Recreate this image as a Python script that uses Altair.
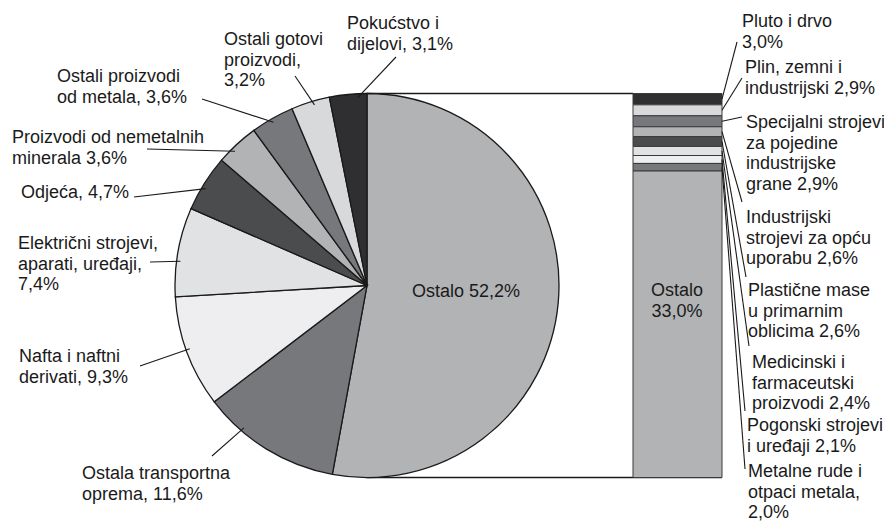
import altair as alt
import pandas as pd
import numpy as np

# ---------------- data ----------------
pie_names = ["Ostalo", "Ostala transportna oprema", "Nafta i naftni derivati",
             "Električni strojevi, aparati, uređaji", "Odjeća",
             "Proizvodi od nemetalnih minerala", "Ostali proizvodi od metala",
             "Ostali gotovi proizvodi", "Pokućstvo i dijelovi"]
pie_values = [52.2, 11.6, 9.3, 7.4, 4.7, 3.6, 3.6, 3.2, 3.1]
pie_label_text = ["Ostalo 52,2%",
                  "Ostala transportna\noprema, 11,6%",
                  "Nafta i naftni\nderivati, 9,3%",
                  "Električni strojevi,\naparati, uređaji,\n7,4%",
                  "Odjeća, 4,7%",
                  "Proizvodi od nemetalnih\nminerala 3,6%",
                  "Ostali proizvodi\nod metala, 3,6%",
                  "Ostali gotovi\nproizvodi,\n3,2%",
                  "Pokućstvo i\ndijelovi, 3,1%"]
pie_colors = ["#b2b3b5", "#77787b", "#eeeef0", "#e1e2e3", "#4b4c4e",
              "#b2b3b5", "#77787b", "#d8d9da", "#2f2e30"]

bar_names = ["Pluto i drvo", "Plin, zemni i industrijski",
             "Specijalni strojevi za pojedine industrijske grane",
             "Industrijski strojevi za opću uporabu",
             "Plastične mase u primarnim oblicima",
             "Medicinski i farmaceutski proizvodi",
             "Pogonski strojevi i uređaji",
             "Metalne rude i otpaci metala", "Ostalo"]
bar_values = [3.0, 2.9, 2.9, 2.6, 2.6, 2.4, 2.1, 2.0, 33.0]
bar_label_text = ["Pluto i drvo\n3,0%",
                  "Plin, zemni i\nindustrijski 2,9%",
                  "Specijalni strojevi\nza pojedine\nindustrijske\ngrane 2,9%",
                  "Industrijski\nstrojevi za opću\nuporabu 2,6%",
                  "Plastične mase\nu primarnim\noblicima 2,6%",
                  "Medicinski i\nfarmaceutski\nproizvodi 2,4%",
                  "Pogonski strojevi\ni uređaji 2,1%",
                  "Metalne rude i\notpaci metala,\n2,0%",
                  "Ostalo\n33,0%"]
bar_colors = ["#2f2e30", "#d8d9da", "#77787b", "#b2b3b5", "#4b4c4e",
              "#e1e2e3", "#eeeef0", "#77787b", "#b2b3b5"]

# ---------------- layout (pixels, chart coordinates) ----------------
W, H = 876, 516
CX, CY, R = 359, 277.5, 192
TOP, BOTTOM = CY - R, CY + R
BAR_X0, BAR_X1 = 625, 714
SPLIT_PX = 163

FONT = "Liberation Sans"
FS = 18
LH = 20.5
INK = "#1a1a1a"

# label anchors: (x, first baseline y), leader end point, where along the slice the leader touches
pie_label_pos = [(458, 289), (74, 471), (11, 354), (10, 241), (13, 190),
                 (4, 135), (49, 74), (216, 37), (339, 21)]
pie_leader_end = [None, (204, 448), (132, 358), (142, 254), (126, 189),
                  (139, 141), (194, 91), (287, 68), (388, 49)]
pie_leader_frac = [0.5, 0.72, 0.52, 0.4, 0.43, 0.36, 0.48, 0.58, 0.75]
bar_label_pos = [(734, 19), (737, 65), (738, 120), (738, 215), (740, 288),
                 (744, 360), (739, 423), (740, 469), (669, 288)]
bar_leader_end = [(729, 34), (734, 70), (734, 109), (734, 194), (738, 269),
                  (741, 338), (737, 403), (737, 461), None]

# ---------------- derived tables ----------------
pie_df = pd.DataFrame({"name": pie_names, "value": pie_values,
                       "order": range(len(pie_names)), "color": pie_colors})

tot = sum(pie_values)
cum = np.cumsum([0] + pie_values)

bar_df = pd.DataFrame({"name": bar_names, "value": bar_values,
                       "order": range(len(bar_names)), "color": bar_colors})
small_total = float(sum(bar_values[:-1]))
bar_total = float(sum(bar_values))
bdom = [0.0, small_total, bar_total]
brng = [TOP, SPLIT_PX, BOTTOM]
bcum = np.cumsum([0] + bar_values)
bmid = (bcum[:-1] + bcum[1:]) / 2

text_rows = []
lead_rows = []
for i, t in enumerate(pie_label_text):
    if i == 0:
        continue
    x, y = pie_label_pos[i]
    text_rows.append({"x": x, "y": y, "text": t})
    e = pie_leader_end[i]
    ang = (cum[i] + pie_leader_frac[i] * pie_values[i]) / tot * 2 * np.pi
    sx = CX + 0.98 * R * np.sin(ang)
    sy = CY - 0.98 * R * np.cos(ang)
    lead_rows.append({"x": e[0], "y": e[1], "x2": sx, "y2": sy})
for i, t in enumerate(bar_label_text[:-1]):
    x, y = bar_label_pos[i]
    text_rows.append({"x": x, "y": y, "text": t})
    e = bar_leader_end[i]
    sy = float(np.interp(bmid[i], bdom, brng))
    lead_rows.append({"x": e[0], "y": e[1], "x2": BAR_X1, "y2": sy})

center_rows = [
    {"x": pie_label_pos[0][0], "y": pie_label_pos[0][1], "text": pie_label_text[0]},
    {"x": bar_label_pos[-1][0], "y": bar_label_pos[-1][1], "text": bar_label_text[-1]},
]

conn_rows = [
    {"x": CX, "y": TOP, "x2": BAR_X0, "y2": TOP},
    {"x": CX, "y": BOTTOM, "x2": BAR_X1, "y2": BOTTOM},
]

ID = dict(scale=None, axis=None)

connectors = alt.Chart(pd.DataFrame(conn_rows)).mark_rule(
    color=INK, strokeWidth=1.3).encode(
    x=alt.X("x:Q", **ID), y=alt.Y("y:Q", **ID),
    x2="x2:Q", y2="y2:Q")

pie = alt.Chart(pie_df).mark_arc(outerRadius=R, stroke=INK, strokeWidth=1.3).encode(
    theta=alt.Theta("value:Q", stack=True),
    order=alt.Order("order:Q"),
    color=alt.Color("color:N", scale=None),
    x=alt.value(CX), y=alt.value(CY))

bar = alt.Chart(bar_df).transform_stack(
    stack="value", groupby=[], as_=["v0", "v1"],
    sort=[alt.SortField("order", order="ascending")]
).mark_rect(stroke="#3a3a3a", strokeWidth=1).encode(
    x=alt.value(BAR_X0), x2=alt.value(BAR_X1),
    y=alt.Y("v0:Q", axis=None,
            scale=alt.Scale(domain=bdom, range=brng, zero=False, nice=False)),
    y2="v1:Q",
    color=alt.Color("color:N", scale=None))

leaders = alt.Chart(pd.DataFrame(lead_rows)).mark_rule(
    color=INK, strokeWidth=1.1).encode(
    x=alt.X("x:Q", **ID), y=alt.Y("y:Q", **ID),
    x2="x2:Q", y2="y2:Q")

labels = alt.Chart(pd.DataFrame(text_rows)).mark_text(
    align="left", baseline="alphabetic", lineBreak="\n", lineHeight=LH,
    font=FONT, fontSize=FS, color=INK).encode(
    x=alt.X("x:Q", **ID), y=alt.Y("y:Q", **ID), text="text:N")

centers = alt.Chart(pd.DataFrame(center_rows)).mark_text(
    align="center", baseline="alphabetic", lineBreak="\n", lineHeight=LH,
    font=FONT, fontSize=FS, color=INK).encode(
    x=alt.X("x:Q", **ID), y=alt.Y("y:Q", **ID), text="text:N")

chart = alt.layer(connectors, pie, bar, leaders, labels, centers).resolve_scale(
    x="independent", y="independent"
).properties(
    width=W, height=H, padding=0, autosize=alt.AutoSizeParams(type="none"),
    background="white"
).configure_view(stroke=None)

chart.save("out.html", embed_options={"renderer": "svg", "actions": False})
